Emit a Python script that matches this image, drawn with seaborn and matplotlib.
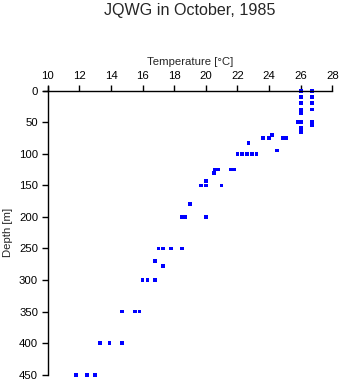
import matplotlib
matplotlib.use("Agg")
import matplotlib.pyplot as plt
import seaborn as sns
import pandas as pd

temperature = [26.0, 26.0, 26.0, 26.0, 26.0, 25.8, 26.0, 26.0, 26.0,
               26.7, 26.7, 26.7, 26.7, 26.7, 26.7,
               24.2, 24.0, 23.6, 24.9, 25.1, 22.7, 24.5,
               22.0, 22.3, 22.6, 22.9, 23.2,
               20.6, 20.8, 21.6, 21.8, 20.5,
               20.0, 19.7, 20.0, 21.0,
               19.0, 18.5, 18.7, 20.0,
               17.0, 17.3, 17.8, 18.5,
               16.8, 17.3,
               16.0, 16.3, 16.8,
               14.7, 15.5, 15.8,
               13.3, 13.9, 14.7,
               11.8, 12.5, 13.0]
depth = [0, 10, 20, 30, 35, 50, 50, 59, 65,
         0, 10, 20, 30, 50, 55,
         70, 75, 75, 75, 75, 83, 95,
         100, 100, 100, 100, 100,
         125, 125, 125, 125, 130,
         143, 150, 150, 150,
         180, 200, 200, 200,
         250, 250, 250, 250,
         270, 278,
         300, 300, 300,
         350, 350, 350,
         400, 400, 400,
         450, 450, 450]
x_ticks = [10, 12, 14, 16, 18, 20, 22, 24, 26, 28]
y_ticks = [0, 50, 100, 150, 200, 250, 300, 350, 400, 450]

df = pd.DataFrame({"Temperature": temperature, "Depth": depth})

sns.set_style("white")
plt.rcParams["font.family"] = ["Liberation Sans", "DejaVu Sans"]

fig = plt.figure(figsize=(3.41, 3.84), dpi=100)
ax = fig.add_axes([0.14, 0.0242, 0.8345, 0.7396])
sns.scatterplot(data=df, x="Temperature", y="Depth", ax=ax, marker="s",
                s=7, color="#0000ff", edgecolor="none", linewidth=0, clip_on=False)

ax.set_xlim(10, 28)
ax.set_ylim(450, 0)
ax.set_xticks(x_ticks)
ax.set_yticks(y_ticks)
ax.xaxis.tick_top()
ax.xaxis.set_label_position("top")
for side in ["right", "bottom"]:
    ax.spines[side].set_visible(False)
for side in ["top", "left"]:
    ax.spines[side].set_color("black")
    ax.spines[side].set_linewidth(1.0)
ax.tick_params(axis="x", which="both", top=True, bottom=False, direction="out",
               length=4, width=1, labelsize=8.2, pad=3, colors="black")
ax.tick_params(axis="y", which="both", left=True, direction="out",
               length=4, width=1, labelsize=8.2, pad=3, colors="black")
ax.set_xlabel("Temperature [°C]", fontsize=8.2, labelpad=4)
ax.set_ylabel("Depth [m]", fontsize=8.2, labelpad=4)
# small extensions of the axis lines beyond the origin
ax.plot([-0.017, 0], [1, 1], transform=ax.transAxes, color="black", lw=1, clip_on=False)
ax.plot([0, 0], [1, 1.018], transform=ax.transAxes, color="black", lw=1, clip_on=False)

fig.text(0.557, 0.972, "JQWG in October, 1985", ha="center", va="center", fontsize=11.6)
fig.savefig("out.png", dpi=100)
